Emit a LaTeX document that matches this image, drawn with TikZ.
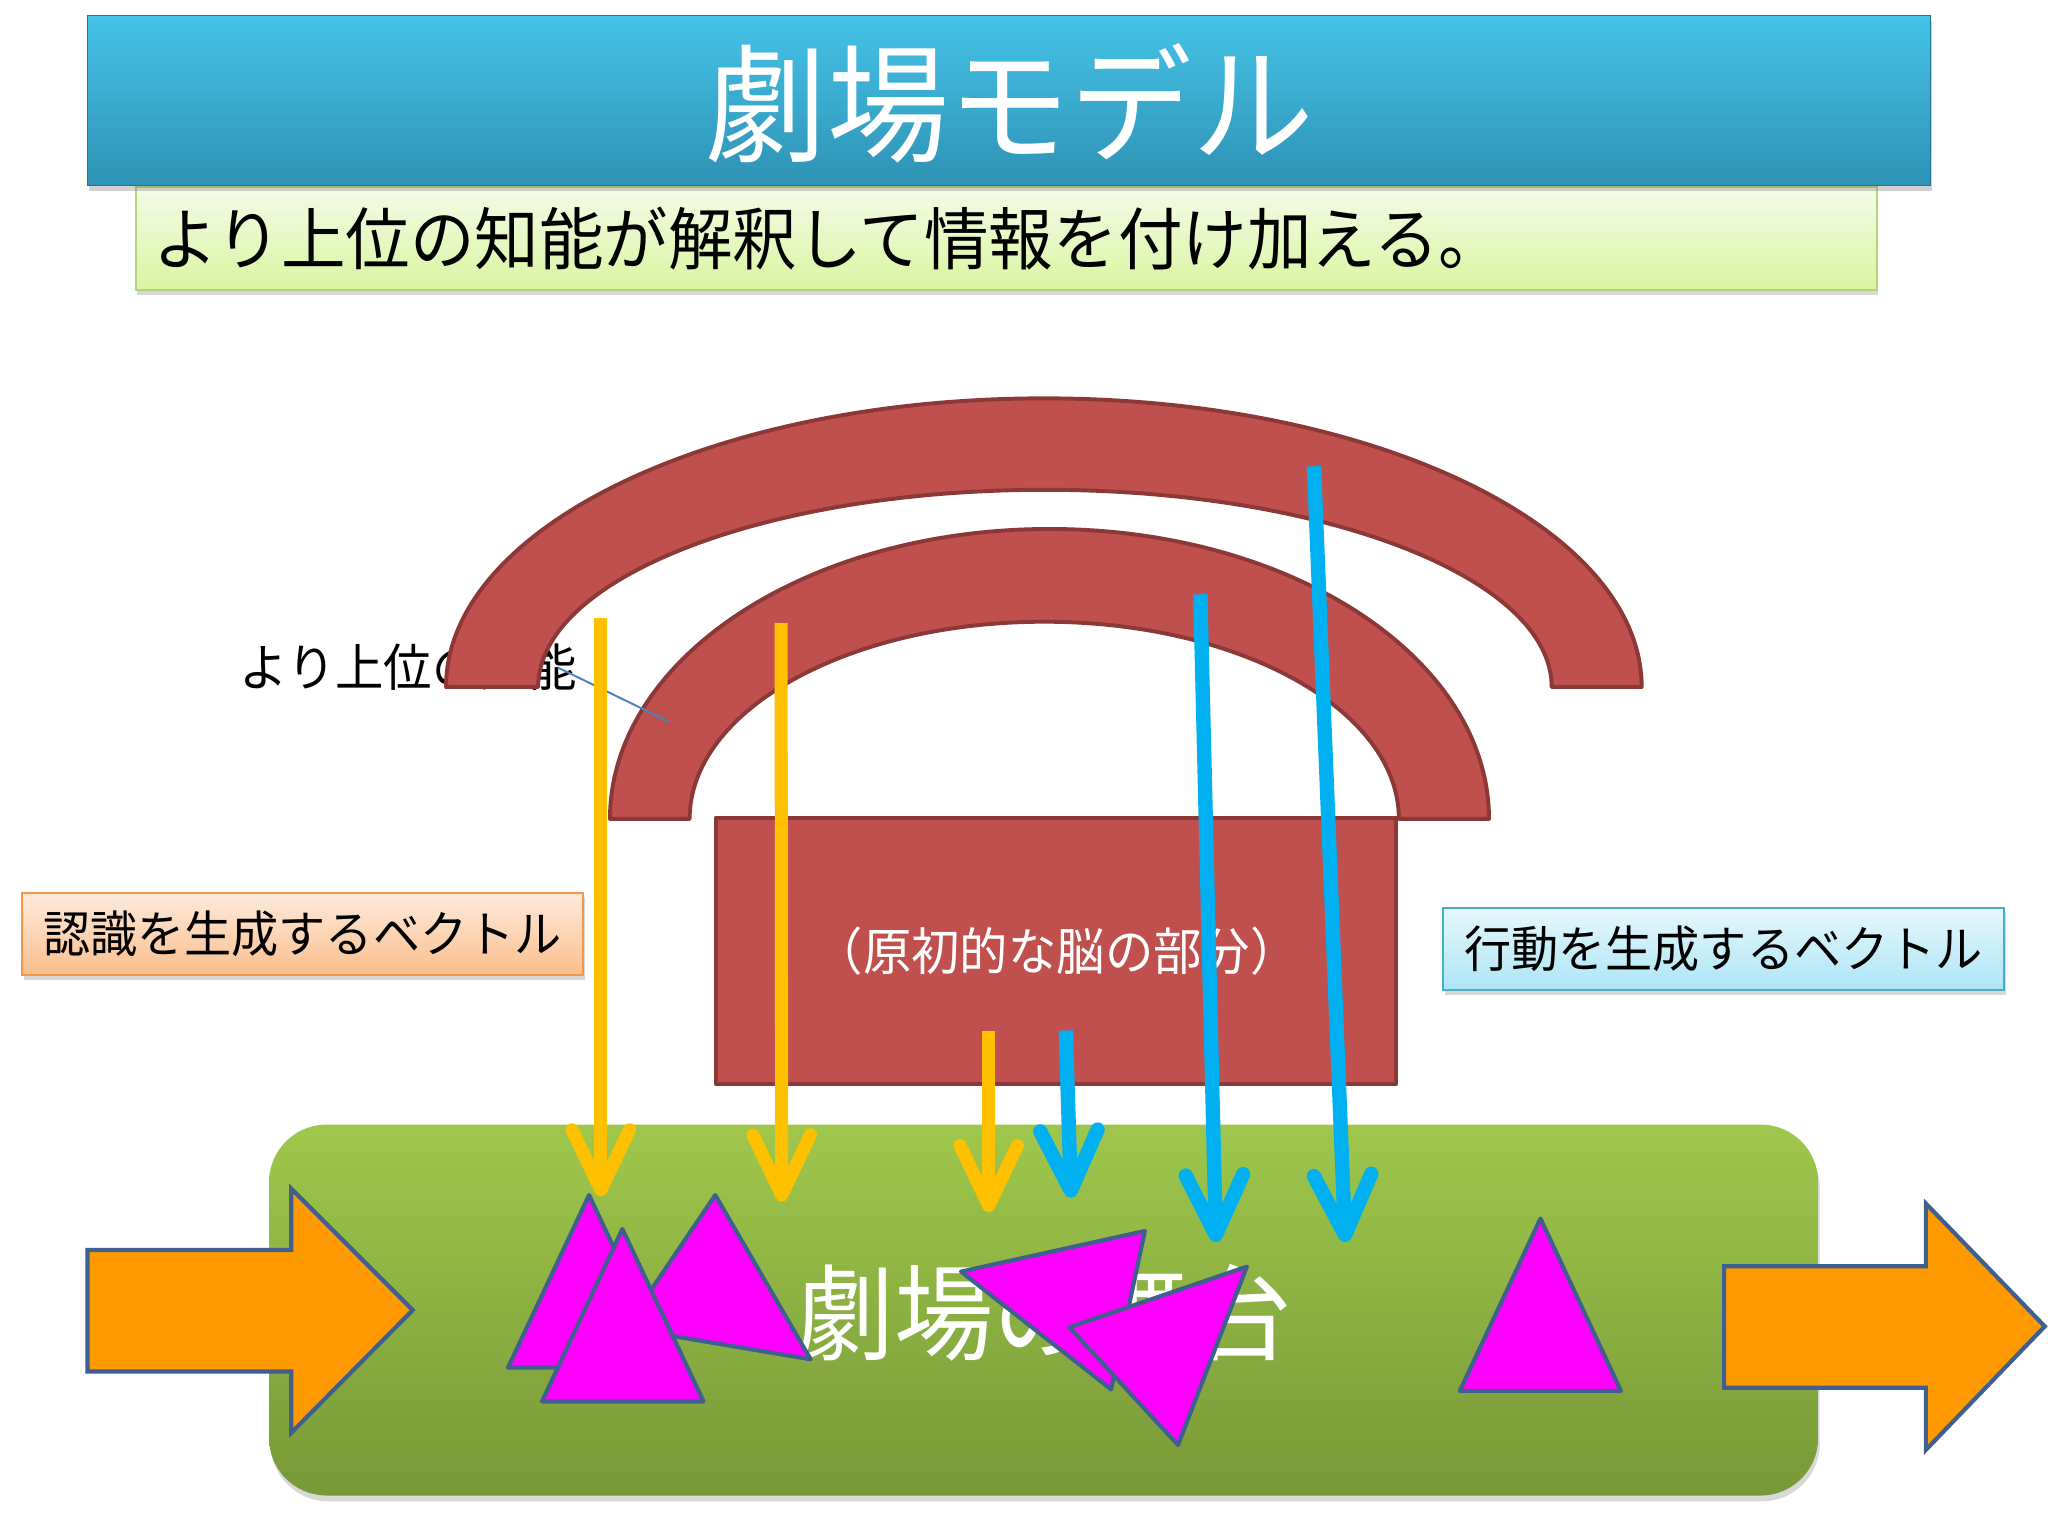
\documentclass[tikz,border=0pt]{standalone}
\usepackage{fontspec}
\setmainfont{Noto Sans CJK JP}[FakeStretch=0.95]
\usetikzlibrary{arrows.meta,shadows}
\definecolor{archred}{HTML}{C0504D}
\definecolor{archdark}{HTML}{8C3836}
\definecolor{edgeblue}{HTML}{3F5F8F}
\definecolor{orangeA}{HTML}{FF9900}
\definecolor{yellowA}{HTML}{FFC000}
\definecolor{blueA}{HTML}{00B0F0}
\definecolor{magentaA}{HTML}{FF00FF}
\definecolor{titletop}{HTML}{45C3E8}
\definecolor{titlebot}{HTML}{2E92B4}
\definecolor{subtop}{HTML}{F4FBE8}
\definecolor{subbot}{HTML}{D9F5A0}
\definecolor{subedge}{HTML}{B2D47A}
\definecolor{greentop}{HTML}{9FC74C}
\definecolor{greenbot}{HTML}{779937}
\definecolor{ortop}{HTML}{FDEBDD}
\definecolor{orbot}{HTML}{FBBE8C}
\definecolor{oredge}{HTML}{F79646}
\definecolor{cytop}{HTML}{E6F7FC}
\definecolor{cybot}{HTML}{ACE5F6}
\definecolor{cyedge}{HTML}{4BACC6}
\definecolor{callout}{HTML}{4F81BD}
\begin{document}
\begin{tikzpicture}[x=0.5pt,y=-0.5pt,
  archstyle/.style={fill=archred,draw=archdark,line width=1.5pt,line join=round},
  tri/.style={fill=magentaA,draw=edgeblue,line width=1.6pt,line join=round},
  blockarrow/.style={fill=orangeA,draw=edgeblue,line width=1.6pt,line join=miter},
  yarr/.style={draw=yellowA,line width=5pt,-{Straight Barb[length=23pt,width=22pt,round]}},
  barr/.style={draw=blueA,line width=5.5pt,-{Straight Barb[length=23pt,width=22pt,round]}},
  lbl/.style={font=\fontsize{19pt}{19pt}\selectfont,text=black,inner sep=0pt,
    minimum width=215pt,minimum height=31.5pt,line width=0.8pt,
    drop shadow={opacity=0.3,shadow xshift=0.8pt,shadow yshift=-1.8pt}}
]
\useasboundingbox (0,0) rectangle (1568,1176);
\fill[white] (0,0) rectangle (1568,1176);

% subtitle box
\node[draw=subedge,line width=0.8pt,top color=subtop,bottom color=subbot,
  minimum width=666.5pt,minimum height=39.5pt,inner sep=0pt,
  drop shadow={opacity=0.3,shadow xshift=0.6pt,shadow yshift=-1.8pt}]
  (subbox) at (770.5,182.5) {};
\node[anchor=west,inner sep=0pt,font=\fontsize{26pt}{26pt}\selectfont]
  (subtext) at (117,183) {より上位の知能が解釈して情報を付け加える。};

% title bar
\node[draw=titlebot!80!black,line width=0.6pt,top color=titletop,bottom color=titlebot,
  minimum width=705.5pt,minimum height=65pt,inner sep=0pt,
  drop shadow={opacity=0.35,shadow xshift=0.6pt,shadow yshift=-2pt}]
  (titlebar) at (772.5,77) {};
\node[text=white,inner sep=0pt,font=\fontsize{49pt}{49pt}\selectfont]
  (titletext) at (773,79) {劇場モデル};

% label of upper intelligence (partly hidden by the arch)
\node[anchor=west,inner sep=0pt,font=\fontsize{19.5pt}{19.5pt}\selectfont]
  (upper) at (183,511) {より上位の知能};

% outer arch
\path[archstyle] (341.5,526) arc[start angle=180,end angle=360,x radius=457.7,y radius=221]
  -- (1188,526) arc[start angle=0,end angle=-180,x radius=388,y radius=151] -- cycle;
% inner arch
\path[archstyle] (467,627) arc[start angle=180,end angle=360,x radius=336.5,y radius=222]
  -- (1071,627) arc[start angle=0,end angle=-180,x radius=271.5,y radius=151] -- cycle;

% primitive brain box
\node[archstyle,minimum width=260.5pt,minimum height=102pt,inner sep=0pt]
  (brain) at (808.5,728) {};
\node[text=white,inner sep=0pt,font=\fontsize{19.5pt}{19.5pt}\selectfont]
  (braintext) at (809,728) {（原初的な脳の部分）};

% callout line
\coordinate (calloutA) at (427,511);
\coordinate (calloutB) at (512,552.5);
\draw[callout,line width=0.75pt] (calloutA) -- (calloutB);

% stage
\node[rounded corners=22pt,top color=greentop,bottom color=greenbot,
  minimum width=593pt,minimum height=142pt,inner sep=0pt,
  drop shadow={opacity=0.3,shadow xshift=0.6pt,shadow yshift=-2.2pt}]
  (stage) at (799,1003) {};
\node[text=white,inner sep=0pt,font=\fontsize{40pt}{40pt}\selectfont]
  (stagetext) at (799,1005) {劇場の舞台};

% triangles
\draw[tri] (451,915) -- (389,1047) -- (513,1047) -- cycle;
\draw[tri] (547.6,915) -- (478.8,1016.8) -- (620.6,1040.7) -- cycle;
\draw[tri] (476.5,941) -- (415,1073) -- (538.6,1073) -- cycle;
\draw[tri] (735.8,973.6) -- (876.5,942.5) -- (850.7,1063.7) -- cycle;
\draw[tri] (818.7,1016.2) -- (954.6,969.8) -- (901.9,1106.3) -- cycle;
\draw[tri] (1179.4,933) -- (1117.7,1064.9) -- (1241,1064.9) -- cycle;

% block arrows
\draw[blockarrow] (67,957) -- (223,957) -- (223,910) -- (316,1003) -- (223,1097)
  -- (223,1050) -- (67,1050) -- cycle;
\draw[blockarrow] (1320,969.5) -- (1474.5,969.5) -- (1474.5,921.5) -- (1565.5,1015.5)
  -- (1474.5,1110) -- (1474.5,1062.5) -- (1320,1062.5) -- cycle;

% vector labels
\node[lbl,draw=oredge,top color=ortop,bottom color=orbot] (reclbl) at (231.5,715) {認識を生成するベクトル};
\node[lbl,draw=cyedge,top color=cytop,bottom color=cybot] (actlbl) at (1319.5,726.5) {行動を生成するベクトル};

% vectors
\coordinate (y1s) at (460,473);  \coordinate (y1e) at (460,916);
\coordinate (y2s) at (598,477);  \coordinate (y2e) at (598.5,920);
\coordinate (y3s) at (757,789);  \coordinate (y3e) at (757,928);
\coordinate (b1s) at (816,789);  \coordinate (b1e) at (820,917);
\coordinate (b2s) at (919,455);  \coordinate (b2e) at (931,951);
\coordinate (b3s) at (1006,357); \coordinate (b3e) at (1030,951);
\draw[yarr] (y1s) -- (y1e);
\draw[yarr] (y2s) -- (y2e);
\draw[yarr] (y3s) -- (y3e);
\draw[barr] (b1s) -- (b1e);
\draw[barr] (b2s) -- (b2e);
\draw[barr] (b3s) -- (b3e);
\end{tikzpicture}
\end{document}
